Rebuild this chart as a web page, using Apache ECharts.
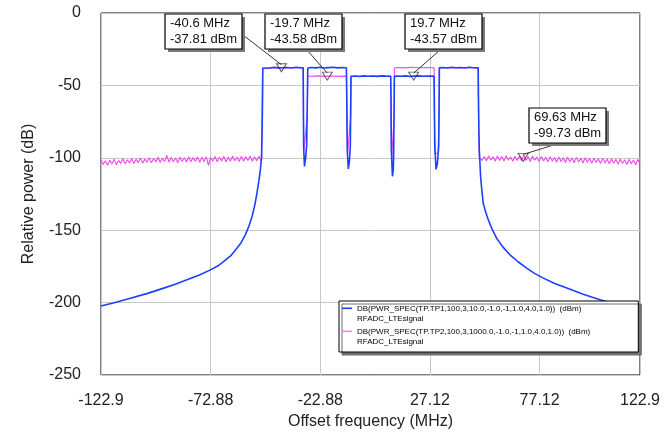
<!DOCTYPE html>
<html>
<head>
<meta charset="utf-8">
<script src="https://cdn.jsdelivr.net/npm/echarts@6/dist/echarts.min.js"></script>
<style>
  html, body { margin: 0; padding: 0; background: #fff; }
  #chart { width: 670px; height: 433px; }
</style>
</head>
<body>
<div id="chart"></div>
<script>
// x axis tick positions (MHz)
const xTicks = [-122.88, -72.88, -22.88, 27.12, 77.12, 122.88]

// TP1 (blue) trace, [MHz, dB]
const tp1Points = [
	[-122.88, -202.3], [-116, -199.8], [-109.5, -197], [-102, -193.8], [-94.3, -190],
	[-89, -187.3], [-83.7, -184.3], [-78, -181], [-73, -177.4], [-69.5, -174.6],
	[-66.9, -171.6], [-63.8, -167.8], [-60.9, -162.4], [-59, -158.6], [-57.1, -153.2],
	[-55.5, -147.5], [-54, -140.5], [-52.8, -133], [-51.75, -124.3], [-50.9, -116],
	[-50.2, -108.2], [-49.7, -100], [-49.4, -80], [-49.2, -55], [-49.1, -38.2],
	[-48.5, -37.6], [-46, -38.0], [-44, -37.5], [-42, -37.9], [-40.6, -37.81], [-38, -37.6],
	[-36, -38.0], [-34, -37.5], [-32, -37.8], [-30.7, -37.9],
	[-30.6, -60], [-30.5, -92], [-30.1, -106], [-29.6, -100], [-29.1, -92], [-28.8, -60], [-28.6, -38.0],
	[-27, -37.6], [-25, -37.9], [-23, -37.5], [-21, -38.0], [-19, -37.7], [-17, -37.5],
	[-15, -37.9], [-13, -37.6], [-11, -37.8],
	[-10.8, -60], [-10.6, -95], [-10.1, -107.7], [-9.6, -102], [-9.2, -92], [-9.0, -60], [-8.9, -43.8],
	[-7, -43.5], [-5, -43.8], [-3, -43.4], [-1, -43.7], [1, -43.5], [3, -43.8], [5, -43.4],
	[7, -43.6], [9.2, -43.7],
	[9.35, -60], [9.5, -95], [10.0, -112.8], [10.4, -108], [10.6, -95], [10.8, -60], [10.9, -43.7],
	[12, -43.5], [14, -43.7], [16, -43.4], [18, -43.8], [19.7, -43.57], [22, -43.4],
	[24, -43.7], [26, -43.5], [28, -43.6], [29, -43.7],
	[29.1, -60], [29.3, -92], [29.9, -108], [30.5, -104], [31.1, -92], [31.3, -60], [31.4, -37.9],
	[33, -37.6], [35, -38.0], [37, -37.5], [39, -37.8], [41, -37.6], [43, -38.0],
	[45, -37.5], [47, -37.8], [49.1, -37.9],
	[49.2, -55], [49.4, -80], [49.6, -94.4], [50.2, -112.9], [50.8, -123], [51.4, -131.3],
	[52.5, -137.5], [53.7, -142.8], [55.5, -149.5], [57.5, -155.5], [60.3, -161.5],
	[63.6, -167], [67.3, -171.8], [71.2, -176.2], [74.8, -179.8], [78.8, -183.1],
	[84, -186.8], [89.5, -190], [97, -194.3], [104.6, -198.1], [109, -200],
	[113.8, -201.6], [118, -202.1], [122.88, -202.3],
]

// TP2 (magenta) noise floor, sampled every 1 MHz
const noiseStep = 1
const tp2LeftStart = -122.88
const tp2LeftNoise = [
	-101.2, -104.6, -102.0, -105.1, -101.6, -104.3, -100.9, -104.8, -101.8, -103.9,
	-100.7, -104.2, -101.3, -103.6, -100.4, -104.0, -101.0, -103.3, -100.2, -103.8,
	-100.8, -103.1, -99.9, -103.5, -100.5, -102.9, -99.6, -103.2, -100.3, -102.6,
	-98.4, -103.0, -99.8, -102.7, -100.1, -103.4, -99.5, -102.5, -100.0, -102.9,
	-99.3, -102.8, -99.9, -102.4, -99.4, -103.1, -99.7, -102.6, -99.2, -105.3,
	-99.8, -102.3, -99.1, -102.7, -99.6, -102.2, -99.0, -102.9, -99.5, -102.4,
	-98.9, -102.1, -99.4, -102.6, -99.0, -102.3, -99.3, -101.9, -98.8, -102.4,
	-99.2, -102.0, -98.9, -102.2,
]
const tp2RightStart = 49.88
const tp2RightNoise = [
	-98.9, -101.8, -99.2, -102.1, -98.7, -101.6, -99.3, -102.3, -98.8, -101.9,
	-99.1, -102.2, -98.6, -101.7, -99.4, -102.4, -98.9, -101.8, -99.0, -102.0,
	-97.8, -101.9, -99.3, -102.5, -98.9, -101.7, -99.5, -102.6, -99.1, -102.2,
	-99.6, -102.8, -99.2, -102.3, -99.8, -103.0, -99.4, -102.5, -99.9, -103.2,
	-99.6, -102.7, -100.1, -103.4, -99.7, -102.9, -100.3, -103.6, -99.9, -103.1,
	-100.5, -103.8, -100.2, -103.3, -100.7, -104.0, -100.4, -103.5, -100.9, -104.2,
	-100.6, -103.7, -101.1, -104.4, -100.8, -103.9, -101.3, -104.6, -101.0, -104.1,
	-101.5, -104.8, -101.2, -104.3,
]
// TP2 in-band part, [MHz, dB]
const tp2Channels = [
	[-49.6, -100], [-49.5, -80], [-49.2, -38.0], [-46, -37.8], [-42, -37.9], [-38, -37.7],
	[-34, -37.8], [-30.7, -37.8],
	[-30.6, -70], [-30.3, -95], [-29.5, -96], [-28.8, -70], [-28.6, -43.6],
	[-27, -43.7], [-24, -43.4], [-21, -43.8], [-19.7, -43.58], [-17, -43.5], [-14, -43.8], [-11, -43.6],
	[-10.8, -70], [-10.4, -97], [-9.6, -98], [-9.0, -70], [-8.9, -43.6],
	[-6, -43.7], [-3, -43.5], [0, -43.8], [3, -43.4], [6, -43.7], [9.2, -43.6],
	[9.35, -70], [9.7, -100], [10.4, -100], [10.8, -70], [10.9, -37.8],
	[13, -37.6], [16, -37.9], [19, -37.5], [22, -37.8], [25, -37.6], [29, -37.8],
	[29.1, -70], [29.5, -97], [30.8, -97], [31.3, -70], [31.4, -37.8],
	[34, -37.7], [38, -37.9], [42, -37.6], [46, -37.8], [49.1, -37.8],
	[49.3, -80], [49.6, -100],
]

// markers
const markerFreq = [-40.6, -19.7, 19.7, 69.63]
const markerPower = [-37.81, -43.58, -43.57, -99.73]

const tp1Name = 'DB(PWR_SPEC(TP.TP1,100,3,10.0,-1.0,-1,1.0,4.0,1.0))  (dBm)\nRFADC_LTEsignal'
const tp2Name = 'DB(PWR_SPEC(TP.TP2,100,3,1000.0,-1.0,-1,1.0,4.0,1.0))  (dBm)\nRFADC_LTEsignal'

const tp2Points = []
tp2LeftNoise.forEach((v, i) => tp2Points.push([tp2LeftStart + i * noiseStep, v]))
tp2Channels.forEach((p) => tp2Points.push(p))
tp2RightNoise.forEach((v, i) => tp2Points.push([tp2RightStart + i * noiseStep, v]))

const markerData = markerFreq.map((f, i) => [f, markerPower[i]])

const font = '"Liberation Sans", Arial, sans-serif'
const chart = echarts.init(document.getElementById('chart'))

chart.setOption({
	animation: false,
	textStyle: { fontFamily: font },
	grid: {
		left: 101,
		right: 30,
		top: 13,
		bottom: 58,
		show: true,
		borderColor: '#000',
		borderWidth: 1,
		outerBoundsMode: 'none',
	},
	legend: {
		data: [tp1Name, tp2Name],
		orient: 'vertical',
		left: 339,
		top: 301,
		padding: [3, 48, 5, 3],
		itemGap: 3,
		itemWidth: 10,
		itemHeight: 13,
		icon: 'path://M0,0H10V1.6H0Z M0,13',
		backgroundColor: '#fff',
		borderColor: '#000',
		borderWidth: 1,
		shadowColor: '#6e6e6e',
		shadowBlur: 0,
		shadowOffsetX: 3,
		shadowOffsetY: 3,
		itemStyle: { borderWidth: 0 },
		textStyle: { fontSize: 8, lineHeight: 10, color: '#000', fontFamily: font },
	},
	xAxis: {
		type: 'value',
		min: -122.88,
		max: 122.88,
		name: 'Offset frequency (MHz)',
		nameLocation: 'middle',
		nameGap: 37,
		nameTextStyle: { fontSize: 16, color: '#222', verticalAlign: 'top' },
		axisLine: { show: false },
		axisTick: { show: false, customValues: xTicks },
		axisLabel: {
			customValues: xTicks,
			margin: 18,
			fontSize: 16,
			color: '#222',
			formatter: (v) => (Math.abs(v) > 100 ? v.toFixed(1) : v.toFixed(2)),
		},
		splitLine: { show: true, lineStyle: { color: '#c8c8c8', width: 1 } },
	},
	yAxis: {
		type: 'value',
		min: -250,
		max: 0,
		interval: 50,
		name: 'Relative power (dB)',
		nameLocation: 'middle',
		nameGap: 64,
		nameTextStyle: { fontSize: 16, color: '#222' },
		axisLine: { show: false },
		axisTick: { show: false },
		axisLabel: { margin: 20, fontSize: 16, color: '#222' },
		splitLine: { show: true, lineStyle: { color: '#c8c8c8', width: 1 } },
	},
	series: [
		{
			name: tp2Name,
			type: 'line',
			data: tp2Points,
			showSymbol: false,
			color: '#f47cf4',
			lineStyle: { color: '#f048f0', width: 1.1 },
			z: 2,
		},
		{
			name: tp1Name,
			type: 'line',
			data: tp1Points,
			showSymbol: false,
			color: '#1f3fff',
			lineStyle: { color: '#1f3fff', width: 1.6 },
			z: 3,
		},
		{
			name: 'markers',
			type: 'scatter',
			data: markerData,
			symbol: 'triangle',
			symbolRotate: 180,
			symbolSize: [10, 8],
			itemStyle: { color: 'rgba(255,255,255,0)', borderColor: '#333', borderWidth: 1 },
			z: 5,
		},
	],
})

// callout boxes (pixel layout) and where the leader line leaves each box
const boxPos = [[165, 14], [265, 14], [405, 14], [529, 108]]
const boxAnchor = [[243, 35], [307, 50], [440, 50], [560, 143]]
const boxW = 77
const boxH = 35

const graphics = []
markerData.forEach((p, i) => {
	const px = chart.convertToPixel({ gridIndex: 0 }, p)
	const [bx, by] = boxPos[i]
	graphics.push({
		type: 'line',
		shape: { x1: boxAnchor[i][0], y1: boxAnchor[i][1], x2: px[0], y2: px[1] - 3 },
		style: { stroke: '#333', lineWidth: 1 },
		z: 10,
	})
	graphics.push({
		type: 'rect',
		shape: { x: bx + 3, y: by + 3, width: boxW, height: boxH },
		style: { fill: '#7a7a7a' },
		z: 11,
	})
	graphics.push({
		type: 'rect',
		shape: { x: bx, y: by, width: boxW, height: boxH },
		style: { fill: '#fff', stroke: '#000', lineWidth: 1.2 },
		z: 12,
	})
	graphics.push({
		type: 'text',
		x: bx + 5,
		y: by + boxH / 2,
		style: {
			text: markerFreq[i] + ' MHz\n' + markerPower[i] + ' dBm',
			font: '13px ' + font,
			lineHeight: 16,
			fill: '#111',
			verticalAlign: 'middle',
		},
		z: 13,
	})
})
chart.setOption({ graphic: graphics })
</script>
</body>
</html>
